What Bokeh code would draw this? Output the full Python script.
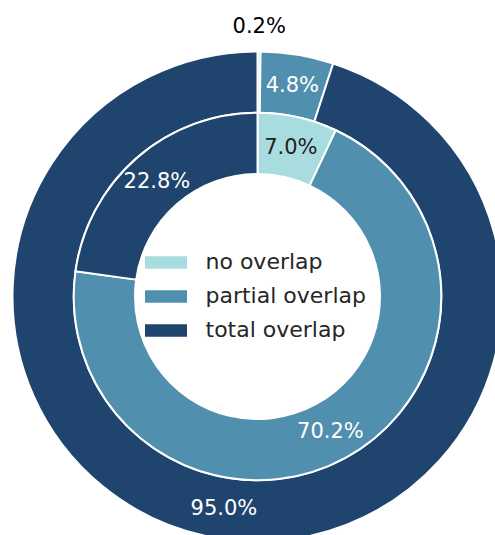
import numpy as np
from bokeh.plotting import figure
from bokeh.models import Legend, LegendItem, ColumnDataSource, Range1d
from bokeh.embed import file_html
from bokeh.resources import INLINE
from bokeh.core.properties import value

categories = ["no overlap", "partial overlap", "total overlap"]
outer_values = [0.2, 4.8, 95.0]
inner_values = [7.0, 70.2, 22.8]
colors = ["#a8dcdf", "#5090ae", "#1f456e"]
outer_label_colors = ["#000000", "#ffffff", "#ffffff"]
inner_label_colors = ["#222222", "#ffffff", "#ffffff"]

R = 245.0
FONT = "DejaVu Sans"


def ring(vals, r_in, r_out, label_r, small_r, text_colors):
    v = np.array(vals, dtype=float) / sum(vals)
    cum = np.concatenate([[0.0], np.cumsum(v)])
    start = np.pi / 2 - 2 * np.pi * cum[:-1]
    end = np.pi / 2 - 2 * np.pi * cum[1:]
    mid = (start + end) / 2
    lr = np.where(np.array(vals) < 1.0, small_r, label_r)
    return ColumnDataSource(dict(
        start=start, end=end, color=colors, cat=categories,
        lx=lr * np.cos(mid), ly=lr * np.sin(mid),
        label=["%.1f%%" % x for x in vals], tcolor=text_colors,
    ))


outer_src = ring(outer_values, 0.75 * R, R, 0.875 * R, 1.106 * R, outer_label_colors)
inner_src = ring(inner_values, 0.5 * R, 0.75 * R, 0.625 * R, 0.625 * R, inner_label_colors)

W, H = 495, 535
cx, cy = 257, 296
p = figure(width=W, height=H, output_backend="svg", toolbar_location=None,
           x_range=Range1d(-cx, W - cx), y_range=Range1d(-(H - cy), cy),
           min_border=0, outline_line_color=None)
p.axis.visible = False
p.grid.visible = False

p.annular_wedge(x=0, y=0, inner_radius=0.75 * R, outer_radius=R,
                start_angle="start", end_angle="end", direction="clock",
                fill_color="color", line_color="white", line_width=2,
                source=outer_src)
inner_r = p.annular_wedge(x=0, y=0, inner_radius=0.5 * R, outer_radius=0.75 * R,
                          start_angle="start", end_angle="end", direction="clock",
                          fill_color="color", line_color="white", line_width=2,
                          source=inner_src)

for src in (outer_src, inner_src):
    p.text(x="lx", y="ly", text="label", text_color="tcolor",
           text_align="center", text_baseline="middle",
           text_font=value(FONT), text_font_size="21px", source=src)

legend = Legend(
    items=[LegendItem(label=c, renderers=[inner_r], index=i) for i, c in enumerate(categories)],
    location=(137.5, 193), glyph_width=55, glyph_height=18,
    label_text_font=FONT, label_text_font_size="22px", label_text_color="#262626",
    label_standoff=13, spacing=9, padding=0, margin=0,
    background_fill_alpha=0, border_line_alpha=0,
)
p.add_layout(legend)

open("out.html", "w").write(file_html(p, INLINE))
